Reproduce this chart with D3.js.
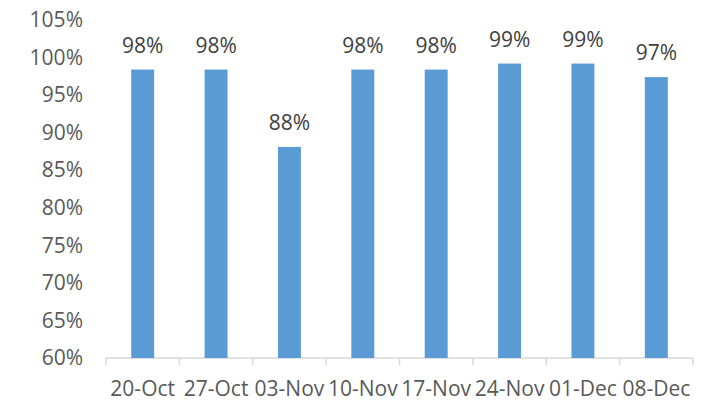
<!DOCTYPE html>
<html lang="en">
<head>
    <meta charset="UTF-8">
    <title>Weekly percentage</title>
    <script src="https://d3js.org/d3.v7.min.js"></script>
    <style>
        body { margin: 0; background: #fff; }
        text { font-family: "Open Sans", sans-serif; }
    </style>
</head>
<body>
    <script>
        //SVG dimensions and margins
        var w = 705;
        var h = 401;
        var margin = { top: 20, right: 12, bottom: 43, left: 106 };

        //Dataset
        var weeks = ["20-Oct", "27-Oct", "03-Nov", "10-Nov", "17-Nov", "24-Nov", "01-Dec", "08-Dec"];
        var values = [98.4, 98.4, 88.1, 98.4, 98.4, 99.2, 99.2, 97.4];
        var yTicks = [60, 65, 70, 75, 80, 85, 90, 95, 100, 105];

        var svg = d3.select("body")
            .append("svg")
            .attr("width", w)
            .attr("height", h);

        var xScale = d3.scaleBand()
            .domain(weeks)
            .range([margin.left, w - margin.right])
            .padding(0);

        var yScale = d3.scaleLinear()
            .domain([60, 105])
            .range([h - margin.bottom, margin.top]);

        var barW = xScale.bandwidth() * 0.313;

        //Y axis labels (no axis line, no gridlines)
        svg.append("g")
            .attr("transform", "translate(" + (margin.left - 23) + ",0)")
            .call(d3.axisLeft(yScale).tickValues(yTicks).tickSize(0).tickPadding(0)
                .tickFormat(function(d) { return d + "%"; }))
            .call(function(g) { g.select(".domain").remove(); })
            .selectAll("text")
            .attr("fill", "#595959")
            .style("font-size", "21px");

        //X axis with ticks at category boundaries
        var xAxis = svg.append("g")
            .attr("transform", "translate(0," + yScale(60) + ")");
        xAxis.append("line")
            .attr("x1", margin.left)
            .attr("x2", w - margin.right)
            .attr("stroke", "#d9d9d9")
            .attr("stroke-width", 1.5);
        var bounds = weeks.map(function(d) { return xScale(d); }).concat([w - margin.right]);
        xAxis.selectAll(".tick")
            .data(bounds)
            .enter()
            .append("line")
            .attr("x1", function(d) { return d; })
            .attr("x2", function(d) { return d; })
            .attr("y1", 0)
            .attr("y2", 7)
            .attr("stroke", "#d9d9d9")
            .attr("stroke-width", 1.5);
        xAxis.selectAll(".lbl")
            .data(weeks)
            .enter()
            .append("text")
            .attr("x", function(d) { return xScale(d) + xScale.bandwidth() / 2; })
            .attr("y", 38)
            .attr("text-anchor", "middle")
            .attr("fill", "#595959")
            .style("font-size", "21px")
            .text(function(d) { return d; });

        //Bars
        svg.selectAll("rect")
            .data(values)
            .enter()
            .append("rect")
            .attr("x", function(d, i) { return xScale(weeks[i]) + xScale.bandwidth() / 2 - barW / 2; })
            .attr("y", function(d) { return yScale(d); })
            .attr("width", barW)
            .attr("height", function(d) { return yScale(60) - yScale(d); })
            .attr("fill", "#5b9bd5");

        //Value labels
        svg.selectAll(".val")
            .data(values)
            .enter()
            .append("text")
            .attr("x", function(d, i) { return xScale(weeks[i]) + xScale.bandwidth() / 2; })
            .attr("y", function(d) { return yScale(d) - 17; })
            .attr("text-anchor", "middle")
            .attr("fill", "#404040")
            .style("font-size", "21px")
            .text(function(d) { return Math.round(d) + "%"; });
    </script>
</body>
</html>
